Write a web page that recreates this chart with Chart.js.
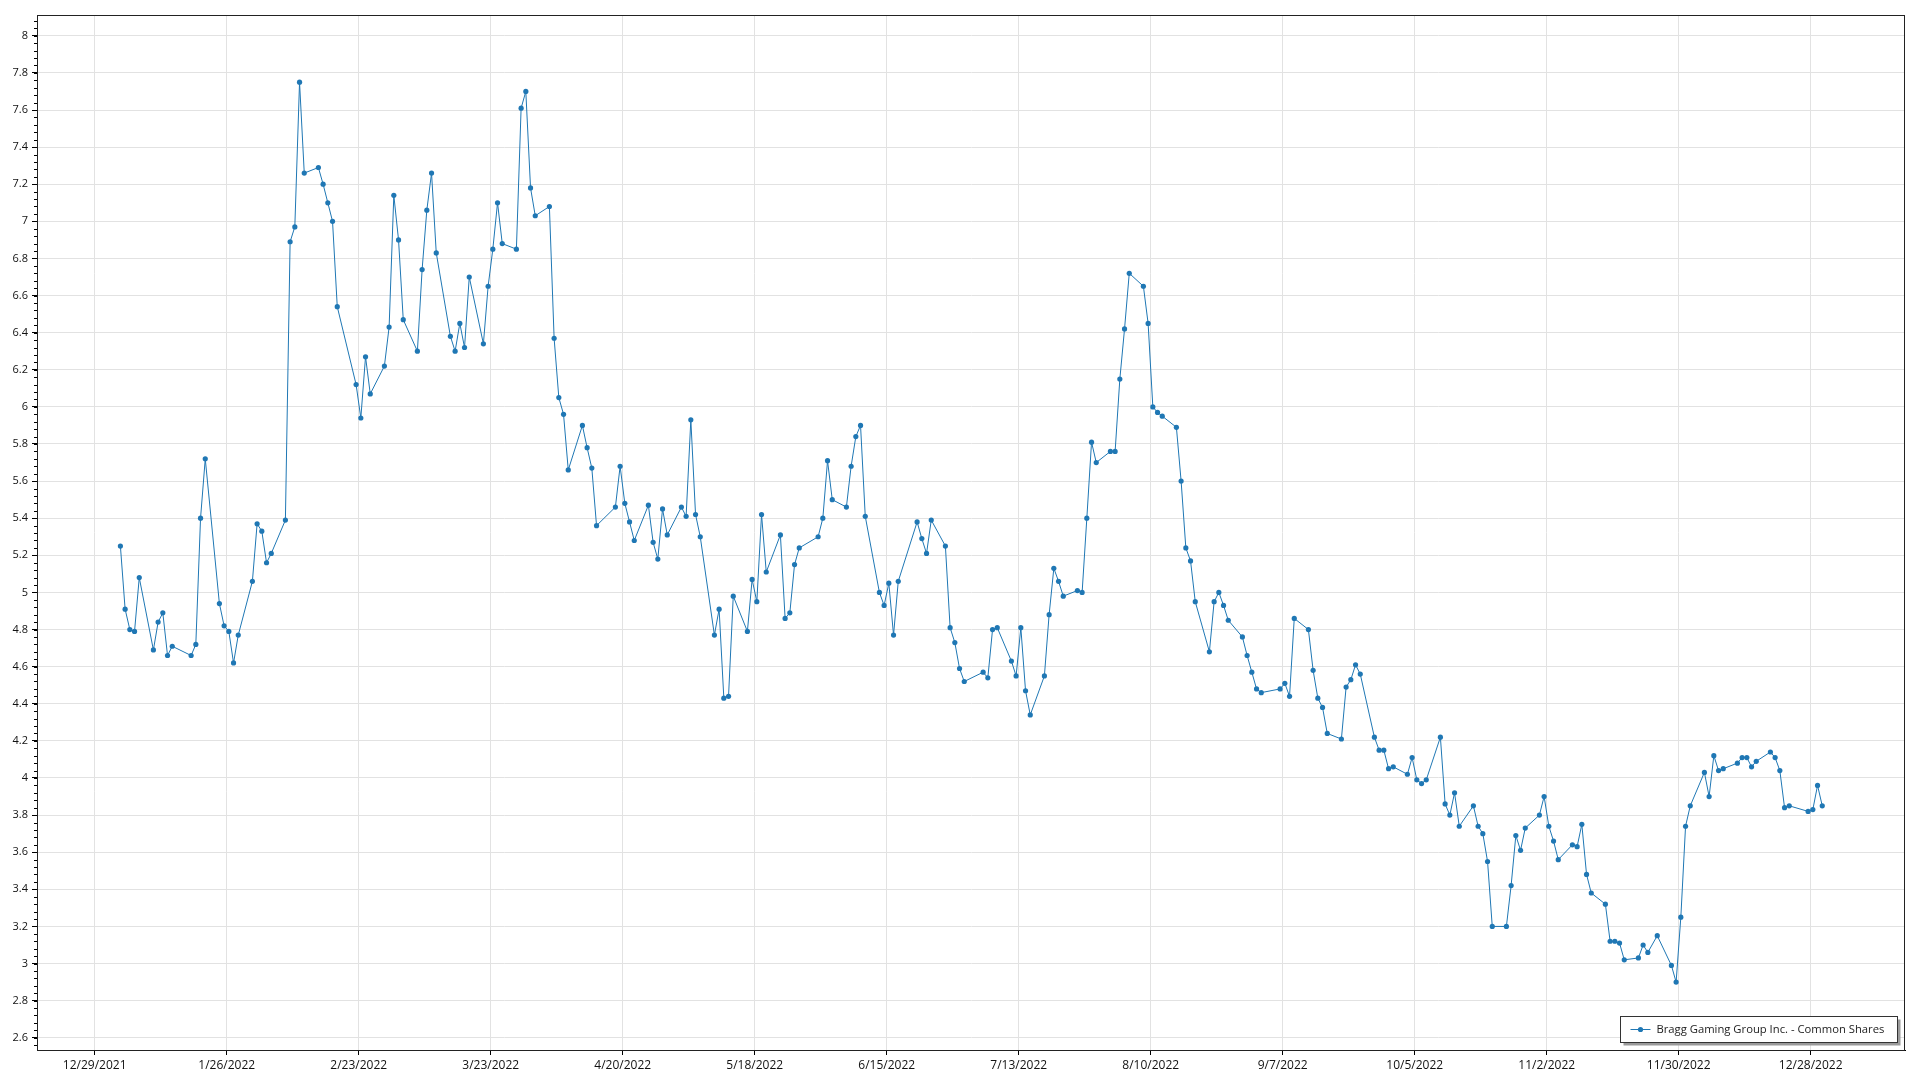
<!DOCTYPE html>
<html><head><meta charset="utf-8">
<script src="https://cdn.jsdelivr.net/npm/chart.js@4.4.0/dist/chart.umd.min.js"></script>
<style>html,body{margin:0;padding:0;background:#fff;}#wrap{width:1920px;height:1080px;position:relative;}canvas{display:block;}</style>
</head><body><div id="wrap"><canvas id="c" width="1920" height="1080"></canvas></div>
<script>
const seriesName = "Bragg Gaming Group Inc. - Common Shares";
const dates = [
"2022-01-03","2022-01-04","2022-01-05","2022-01-06","2022-01-07","2022-01-10","2022-01-11","2022-01-12","2022-01-13","2022-01-14","2022-01-18","2022-01-19","2022-01-20","2022-01-21","2022-01-24","2022-01-25","2022-01-26","2022-01-27","2022-01-28","2022-01-31",
"2022-02-01","2022-02-02","2022-02-03","2022-02-04","2022-02-07","2022-02-08","2022-02-09","2022-02-10","2022-02-11","2022-02-14","2022-02-15","2022-02-16","2022-02-17","2022-02-18","2022-02-22","2022-02-23","2022-02-24","2022-02-25","2022-02-28",
"2022-03-01","2022-03-02","2022-03-03","2022-03-04","2022-03-07","2022-03-08","2022-03-09","2022-03-10","2022-03-11","2022-03-14","2022-03-15","2022-03-16","2022-03-17","2022-03-18","2022-03-21","2022-03-22","2022-03-23","2022-03-24","2022-03-25","2022-03-28","2022-03-29","2022-03-30","2022-03-31",
"2022-04-01","2022-04-04","2022-04-05","2022-04-06","2022-04-07","2022-04-08","2022-04-11","2022-04-12","2022-04-13","2022-04-14","2022-04-18","2022-04-19","2022-04-20","2022-04-21","2022-04-22","2022-04-25","2022-04-26","2022-04-27","2022-04-28","2022-04-29",
"2022-05-02","2022-05-03","2022-05-04","2022-05-05","2022-05-06","2022-05-09","2022-05-10","2022-05-11","2022-05-12","2022-05-13","2022-05-16","2022-05-17","2022-05-18","2022-05-19","2022-05-20","2022-05-23","2022-05-24","2022-05-25","2022-05-26","2022-05-27","2022-05-31",
"2022-06-01","2022-06-02","2022-06-03","2022-06-06","2022-06-07","2022-06-08","2022-06-09","2022-06-10","2022-06-13","2022-06-14","2022-06-15","2022-06-16","2022-06-17","2022-06-21","2022-06-22","2022-06-23","2022-06-24","2022-06-27","2022-06-28","2022-06-29","2022-06-30",
"2022-07-01","2022-07-05","2022-07-06","2022-07-07","2022-07-08","2022-07-11","2022-07-12","2022-07-13","2022-07-14","2022-07-15","2022-07-18","2022-07-19","2022-07-20","2022-07-21","2022-07-22","2022-07-25","2022-07-26","2022-07-27","2022-07-28","2022-07-29",
"2022-08-01","2022-08-02","2022-08-03","2022-08-04","2022-08-05","2022-08-08","2022-08-09","2022-08-10","2022-08-11","2022-08-12","2022-08-15","2022-08-16","2022-08-17","2022-08-18","2022-08-19","2022-08-22","2022-08-23","2022-08-24","2022-08-25","2022-08-26","2022-08-29","2022-08-30","2022-08-31",
"2022-09-01","2022-09-02","2022-09-06","2022-09-07","2022-09-08","2022-09-09","2022-09-12","2022-09-13","2022-09-14","2022-09-15","2022-09-16","2022-09-19","2022-09-20","2022-09-21","2022-09-22","2022-09-23","2022-09-26","2022-09-27","2022-09-28","2022-09-29","2022-09-30",
"2022-10-03","2022-10-04","2022-10-05","2022-10-06","2022-10-07","2022-10-10","2022-10-11","2022-10-12","2022-10-13","2022-10-14","2022-10-17","2022-10-18","2022-10-19","2022-10-20","2022-10-21","2022-10-24","2022-10-25","2022-10-26","2022-10-27","2022-10-28","2022-10-31",
"2022-11-01","2022-11-02","2022-11-03","2022-11-04","2022-11-07","2022-11-08","2022-11-09","2022-11-10","2022-11-11","2022-11-14","2022-11-15","2022-11-16","2022-11-17","2022-11-18","2022-11-21","2022-11-22","2022-11-23","2022-11-25","2022-11-28","2022-11-29","2022-11-30",
"2022-12-01","2022-12-02","2022-12-05","2022-12-06","2022-12-07","2022-12-08","2022-12-09","2022-12-12","2022-12-13","2022-12-14","2022-12-15","2022-12-16","2022-12-19","2022-12-20","2022-12-21","2022-12-22","2022-12-23","2022-12-27","2022-12-28","2022-12-29","2022-12-30"
];
const prices = [
5.25,4.91,4.80,4.79,5.08,4.69,4.84,4.89,4.66,4.71,4.66,4.72,5.40,5.72,4.94,4.82,4.79,4.62,4.77,5.06,
5.37,5.33,5.16,5.21,5.39,6.89,6.97,7.75,7.26,7.29,7.20,7.10,7.00,6.54,6.12,5.94,6.27,6.07,6.22,
6.43,7.14,6.90,6.47,6.30,6.74,7.06,7.26,6.83,6.38,6.30,6.45,6.32,6.70,6.34,6.65,6.85,7.10,6.88,6.85,7.61,7.70,7.18,
7.03,7.08,6.37,6.05,5.96,5.66,5.90,5.78,5.67,5.36,5.46,5.68,5.48,5.38,5.28,5.47,5.27,5.18,5.45,5.31,
5.46,5.41,5.93,5.42,5.30,4.77,4.91,4.43,4.44,4.98,4.79,5.07,4.95,5.42,5.11,5.31,4.86,4.89,5.15,5.24,5.30,
5.40,5.71,5.50,5.46,5.68,5.84,5.90,5.41,5.00,4.93,5.05,4.77,5.06,5.38,5.29,5.21,5.39,5.25,4.81,4.73,4.59,
4.52,4.57,4.54,4.80,4.81,4.63,4.55,4.81,4.47,4.34,4.55,4.88,5.13,5.06,4.98,5.01,5.00,5.40,5.81,5.70,
5.76,5.76,6.15,6.42,6.72,6.65,6.45,6.00,5.97,5.95,5.89,5.60,5.24,5.17,4.95,4.68,4.95,5.00,4.93,4.85,4.76,4.66,4.57,
4.48,4.46,4.48,4.51,4.44,4.86,4.80,4.58,4.43,4.38,4.24,4.21,4.49,4.53,4.61,4.56,4.22,4.15,4.15,4.05,4.06,
4.02,4.11,3.99,3.97,3.99,4.22,3.86,3.80,3.92,3.74,3.85,3.74,3.70,3.55,3.20,3.20,3.42,3.69,3.61,3.73,3.80,
3.90,3.74,3.66,3.56,3.64,3.63,3.75,3.48,3.38,3.32,3.12,3.12,3.11,3.02,3.03,3.10,3.06,3.15,2.99,2.90,3.25,
3.74,3.85,4.03,3.90,4.12,4.04,4.05,4.08,4.11,4.11,4.06,4.09,4.14,4.11,4.04,3.84,3.85,3.82,3.83,3.96,3.85
];
const xTickDates = ["2021-12-29","2022-01-26","2022-02-23","2022-03-23","2022-04-20","2022-05-18","2022-06-15","2022-07-13","2022-08-10","2022-09-07","2022-10-05","2022-11-02","2022-11-30","2022-12-28"];
const xTickLabels = ["12/29/2021","1/26/2022","2/23/2022","3/23/2022","4/20/2022","5/18/2022","6/15/2022","7/13/2022","8/10/2022","9/7/2022","10/5/2022","11/2/2022","11/30/2022","12/28/2022"];
const yTickValues = [2.6,2.8,3,3.2,3.4,3.6,3.8,4,4.2,4.4,4.6,4.8,5,5.2,5.4,5.6,5.8,6,6.2,6.4,6.6,6.8,7,7.2,7.4,7.6,7.8,8];

const FONT = "'Open Sans', 'Noto Sans', sans-serif";
const SAMPLE_TIME_OF_DAY = 0.45; // data timestamps fall late morning of each trading day
const origin = Date.UTC(2021, 11, 29);
function dayOf(s){ const p = s.split('-').map(Number); return (Date.UTC(p[0], p[1]-1, p[2]) - origin)/86400000; }
const points = dates.map((d,i)=>({x: dayOf(d) + SAMPLE_TIME_OF_DAY, y: prices[i]}));
const xTicks = xTickDates.map(dayOf);

const framePlugin = {
  id: 'frame',
  afterDraw(chart){
    const {ctx, chartArea:a, scales} = chart;
    ctx.save();
    ctx.strokeStyle = '#000'; ctx.lineWidth = 1;
    const y = scales.y;
    for (let v = 2.56; v <= 8.1; v += 0.04){
      const py = Math.round(y.getPixelForValue(v)) + 0.5;
      ctx.beginPath(); ctx.moveTo(a.left - 3, py); ctx.lineTo(a.left, py); ctx.stroke();
    }
    ctx.strokeStyle = '#222';
    ctx.strokeRect(Math.round(a.left)+0.5, Math.round(a.top)+0.5, Math.round(a.right-a.left)-1, Math.round(a.bottom-a.top));
    // legend
    const bx = 1620.5, by = 1016.5, bw = 277, bh = 26;
    ctx.fillStyle = '#9a9a9a';
    ctx.fillRect(bx+3, by+3, bw, bh);
    ctx.fillStyle = '#fff';
    ctx.fillRect(bx, by, bw, bh);
    ctx.strokeStyle = '#333'; ctx.lineWidth = 1;
    ctx.strokeRect(bx, by, bw, bh);
    const ly = by + bh/2;
    ctx.strokeStyle = '#1f77b4'; ctx.lineWidth = 1;
    ctx.beginPath(); ctx.moveTo(bx+10, ly); ctx.lineTo(bx+30, ly); ctx.stroke();
    ctx.fillStyle = '#1f77b4';
    ctx.beginPath(); ctx.arc(bx+20, ly, 2.6, 0, Math.PI*2); ctx.fill();
    ctx.fillStyle = '#222';
    let fs = 12;
    ctx.font = fs + 'px ' + FONT;
    while (ctx.measureText(seriesName).width > 231 && fs > 9){ fs -= 0.25; ctx.font = fs + 'px ' + FONT; }
    ctx.textBaseline = 'middle';
    ctx.textAlign = 'left';
    ctx.fillText(seriesName, bx+36, ly);
    ctx.restore();
  }
};

new Chart(document.getElementById('c').getContext('2d'), {
  type: 'line',
  data: { datasets: [{
    label: seriesName,
    data: points,
    borderColor: '#1f77b4',
    backgroundColor: '#1f77b4',
    borderWidth: 1,
    pointRadius: 2.6,
    pointBorderWidth: 0,
    pointHoverRadius: 2.6,
    tension: 0
  }]},
  options: {
    responsive: false,
    animation: false,
    layout: { padding: { top: 15, right: 15, left: 0, bottom: 0 } },
    plugins: { legend: { display: false }, tooltip: { enabled: false } },
    scales: {
      x: {
        type: 'linear', min: -12.24, max: 384,
        afterBuildTicks: s => { s.ticks = xTicks.map(v => ({ value: v })); },
        afterFit: s => { s.height = 30; },
        ticks: { autoSkip: false, maxRotation: 0, minRotation: 0, padding: 3, color: '#111',
          font: { size: 12, family: FONT },
          callback: (v, i) => xTickLabels[i] },
        grid: { color: '#e2e2e2', lineWidth: 1, tickLength: 5, tickColor: '#000' },
        border: { color: '#000' }
      },
      y: {
        min: 2.534, max: 8.112,
        afterBuildTicks: s => { s.ticks = yTickValues.map(v => ({ value: v })); },
        afterFit: s => { s.width = 37; },
        ticks: { padding: 4, color: '#111', font: { size: 11, family: FONT },
          callback: v => String(Math.round(v*10)/10) },
        grid: { color: '#e2e2e2', lineWidth: 1, tickLength: 5, tickColor: '#000' },
        border: { color: '#000' }
      }
    }
  },
  plugins: [framePlugin]
});
</script>
</body></html>
